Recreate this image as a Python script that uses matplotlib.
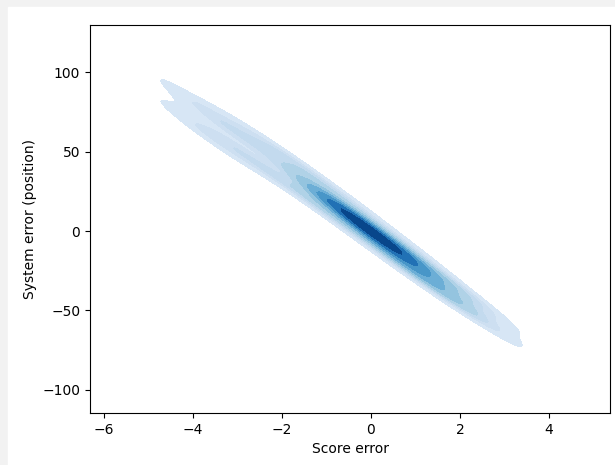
import numpy as np
import pandas as pd
import matplotlib
matplotlib.use("Agg")
import matplotlib.pyplot as plt
from matplotlib.colors import ListedColormap
import seaborn as sns

# Ошибки: оценка (x) и позиция системы (y)
score_err = [-1.0, -0.9, -0.8, -0.7, -0.6, -0.5, -0.4, -0.3, -0.2, -0.1,
             0.0, 0.1, 0.2, 0.3, 0.4, 0.5, 0.6, 0.7, 0.8, 0.9, 1.0,
             -0.95, -0.85, -0.75, -0.65, -0.55, -0.45, -0.35, -0.25, -0.15, -0.05,
             0.05, 0.15, 0.25, 0.35, 0.45, 0.55, 0.65, 0.75, 0.85, 0.95,
             -0.5, -0.3, -0.1, 0.1, 0.3, 0.5, -0.4, 0.0, 0.4,
             -0.7, -0.2, 0.2, 0.7,
             1.1, 1.2, 1.3, 1.4, 1.5, 1.6, 1.7, 1.9,
             -1.1, -1.2, -1.3, -1.4, -1.6, -1.8,
             -2.0, -2.1, -2.2, -2.4, -2.5, -2.6, -2.8, -2.9, -3.0, -3.2,
             -3.3, -3.4, -3.5, -3.6, -3.7, -3.8, -3.8, -3.9,
             2.0, 2.0, 2.1, 2.2, 2.2, 2.3, 2.25]
system_err = [24, 13, 24, 14, 3, 14, 6, 16, -2, 3,
              -1, 4, -14, -4, -1, -14, -12, -21, -11, -21, -12,
              18, 20, 11, 14, 15, 7, 9, 5, 3, 3,
              -3, -2, -8, -7, -14, -8, -16, -20, -23, -24,
              11, 5, 3, -3, -6, -11, 9, 0, -8,
              14, 4, -4, -14,
              -29, -21, -36, -29, -36, -28, -41, -37,
              14, 33, 18, 37, 25, 45,
              33, 46, 53, 38, 50, 58, 47, 60, 66, 58,
              56, 68, 72, 58, 63, 72, 62, 79,
              -36, -44, -48, -50, -43, -42, -48]

df = pd.DataFrame({'score': score_err, 'system': system_err})

blues = ListedColormap(plt.cm.Blues(np.linspace(0.13, 1.0, 256)))

fig = plt.figure(figsize=(6.15, 4.65), dpi=100, facecolor='#f2f2f2')
fig.patches.append(plt.Rectangle((8 / 615, 0), 1, 1 - 7 / 465,
                                 transform=fig.transFigure, color='white', zorder=-1))
ax = fig.add_axes([90 / 615, 52 / 465, 520 / 615, 388 / 465])

sns.kdeplot(data=df, x='score', y='system', fill=True, cmap=blues,
            bw_adjust=1.1, ax=ax)

ax.set_xlim(-6.31, 5.37)
ax.set_ylim(-114.5, 129.6)
ax.set_xlabel('Score error')
ax.set_ylabel('System error (position)')

plt.savefig('out.png', dpi=100)
